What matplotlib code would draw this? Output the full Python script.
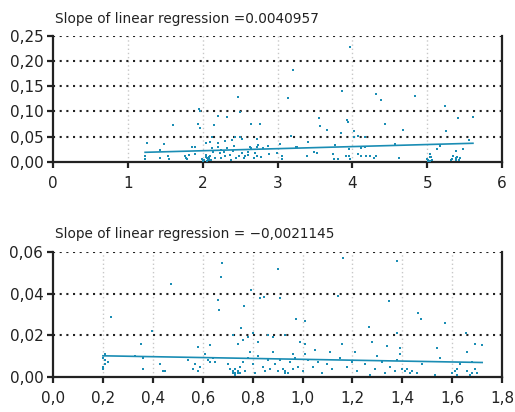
import matplotlib
matplotlib.use("Agg")
import matplotlib.pyplot as plt
from matplotlib.ticker import FuncFormatter
import numpy as np

plt.rcParams["font.family"] = ["Liberation Sans Narrow", "DejaVu Sans"]

# top panel: scatter points
top_x = [1.60, 1.95, 1.97, 1.94, 1.96, 2.15, 2.21, 2.33, 2.47, 2.50, 2.64, 2.76, 2.72, 3.03,
         3.14, 3.18, 3.21, 3.26, 3.41, 3.55, 3.57, 3.66, 3.77, 3.85, 3.86, 3.93, 3.94, 3.97,
         4.02, 4.02, 4.08, 4.17, 4.31, 4.38, 4.43, 4.57, 4.67, 4.83, 5.13, 5.17, 5.24, 5.25,
         5.39, 5.41, 5.48, 5.56, 5.61, 2.12, 2.43, 2.52, 2.30, 2.39,
         1.23, 1.23, 1.26, 1.43, 1.43, 1.48, 1.54, 1.55, 1.76, 1.78, 1.79, 1.82, 1.85, 1.89,
         1.90, 2.04, 2.05, 2.05, 2.06, 2.07, 2.08, 2.08, 2.09, 2.10, 2.10, 2.13, 2.14, 2.17,
         2.20, 2.20, 2.23, 2.25, 2.25, 2.28, 2.30, 2.33, 2.36, 2.38, 2.40, 2.42, 2.45, 2.48,
         2.50, 2.52, 2.55, 2.57, 2.60, 2.61, 2.63, 2.65, 2.68, 2.70, 2.72, 2.74,
         2.78, 2.88, 2.99, 3.06, 3.06, 3.39, 3.49, 3.53, 3.74, 3.76, 3.81, 3.92, 3.96, 3.97,
         4.07, 4.11, 4.18, 4.23, 4.29, 4.31, 2.73, 2.80, 2.87, 3.25, 3.96, 4.12, 4.17,
         4.62, 5.00, 5.01, 5.03, 5.04, 5.06, 5.05, 5.01, 5.03, 5.33, 5.35, 5.38, 5.40, 5.42,
         5.39, 5.32, 5.44, 2.06, 2.07, 2.09, 2.11, 2.04, 2.02, 1.99, 2.01]
top_y = [0.073, 0.105, 0.100, 0.075, 0.067, 0.074, 0.092, 0.090, 0.128, 0.098, 0.075, 0.076,
         0.045, 0.036, 0.126, 0.052, 0.183, 0.030, 0.040, 0.087, 0.071, 0.063, 0.034, 0.058,
         0.140, 0.083, 0.080, 0.227, 0.062, 0.050, 0.051, 0.050, 0.134, 0.123, 0.075, 0.036,
         0.063, 0.130, 0.026, 0.032, 0.111, 0.062, 0.022, 0.087, 0.026, 0.044, 0.089, 0.050,
         0.050, 0.045, 0.042, 0.044,
         0.011, 0.006, 0.038, 0.024, 0.007, 0.035, 0.011, 0.006, 0.011, 0.007, 0.006, 0.014,
         0.029, 0.030, 0.016, 0.037, 0.014, 0.011, 0.007, 0.004, 0.009, 0.003, 0.006, 0.039,
         0.012, 0.027, 0.020, 0.007, 0.037, 0.030, 0.017, 0.024, 0.007, 0.020, 0.011, 0.027,
         0.014, 0.004, 0.021, 0.031, 0.007, 0.011, 0.050, 0.017, 0.007, 0.011, 0.014, 0.020,
         0.029, 0.027, 0.007, 0.017, 0.011, 0.034,
         0.010, 0.016, 0.017, 0.012, 0.006, 0.012, 0.020, 0.017, 0.016, 0.006, 0.006, 0.012,
         0.012, 0.006, 0.016, 0.012, 0.011, 0.011, 0.008, 0.012, 0.030, 0.028, 0.031, 0.030,
         0.025, 0.028, 0.030,
         0.007, 0.006, 0.004, 0.010, 0.016, 0.004, 0.009, 0.002, 0.002, 0.005, 0.011, 0.008,
         0.009, 0.003, 0.003, 0.004, 0.007, 0.002, 0.005, 0.008, 0.003, 0.010, 0.004, 0.006,
         0.002]
top_slope = 0.0040957
top_intercept = 0.0140

# bottom panel
bot_x = [0.232, 0.473, 0.678, 0.672, 0.662, 0.667, 0.794, 0.765, 0.755, 0.397, 0.353, 0.581,
         0.630, 0.901, 1.164, 1.377, 0.846, 0.910, 1.142, 1.348, 1.461, 1.475, 1.573, 0.973,
         1.010, 1.267, 1.380, 1.655, 1.690, 1.720, 1.160, 1.540, 1.660, 1.390, 1.390, 1.280,
         1.340, 0.990, 1.010, 0.830, 0.760, 0.780, 0.800, 0.860, 0.880, 0.930, 0.820, 0.740,
         0.720, 1.050, 1.110, 1.210, 1.300,
         0.20, 0.20, 0.21, 0.21, 0.22, 0.20, 0.21, 0.33, 0.36, 0.36, 0.43, 0.44, 0.45, 0.54,
         0.56, 0.57, 0.58, 0.59, 0.61, 0.62, 0.63, 0.64, 0.65, 0.70, 0.71, 0.72, 0.72, 0.73,
         0.73, 0.73, 0.74, 0.74, 0.75, 0.75, 0.76, 0.77, 0.78, 0.79, 0.80, 0.81, 0.82, 0.84,
         0.85, 0.86, 0.87, 0.88, 0.89, 0.90, 0.91, 0.92, 0.93, 0.93, 0.94, 0.95, 0.96, 0.96,
         0.97, 0.98, 1.00, 1.01, 1.02, 1.04, 1.06, 1.08, 1.10, 1.12, 1.15, 1.18, 1.20, 1.22,
         1.25, 1.27, 1.29, 1.32, 1.33, 1.35, 1.37, 1.38, 1.40, 1.41, 1.42, 1.43, 1.44, 1.46,
         1.48, 1.53, 1.55, 1.60, 1.61, 1.62, 1.62, 1.63, 1.66, 1.67, 1.68, 1.69, 1.70, 1.68]
bot_y = [0.0287, 0.0447, 0.0549, 0.0482, 0.0370, 0.0320, 0.0418, 0.0340, 0.0237, 0.0220,
         0.0157, 0.0146, 0.0153, 0.0518, 0.0573, 0.0558, 0.0386, 0.0380, 0.0390, 0.0365,
         0.0306, 0.0280, 0.0260, 0.0277, 0.0270, 0.0241, 0.0210, 0.0210, 0.0160, 0.0155,
         0.0160, 0.0140, 0.0120, 0.0140, 0.0110, 0.0170, 0.0150, 0.0170, 0.0160, 0.0380,
         0.0180, 0.0190, 0.0210, 0.0200, 0.0190, 0.0200, 0.0170, 0.0160, 0.0200, 0.0130,
         0.0120, 0.0120, 0.0100,
         0.004, 0.005, 0.006, 0.008, 0.007, 0.009, 0.011, 0.010, 0.004, 0.009, 0.006, 0.003,
         0.003, 0.008, 0.004, 0.006, 0.003, 0.005, 0.011, 0.008, 0.007, 0.009, 0.007, 0.006,
         0.004, 0.002, 0.003, 0.002, 0.004, 0.001, 0.002, 0.003, 0.002, 0.005, 0.007, 0.003,
         0.009, 0.012, 0.006, 0.002, 0.010, 0.005, 0.003, 0.008, 0.004, 0.012, 0.006, 0.003,
         0.008, 0.004, 0.002, 0.003, 0.002, 0.007, 0.011, 0.004, 0.009, 0.005, 0.003, 0.011,
         0.008, 0.005, 0.007, 0.002, 0.006, 0.004, 0.009, 0.005, 0.007, 0.003, 0.006, 0.001,
         0.004, 0.007, 0.002, 0.005, 0.003, 0.008, 0.004, 0.003, 0.004, 0.002, 0.003, 0.002,
         0.006, 0.001, 0.009, 0.002, 0.003, 0.001, 0.004, 0.006, 0.003, 0.001, 0.002, 0.004,
         0.002, 0.007]
bot_slope = -0.0021145
bot_intercept = 0.0106

COLOR = "#1a8db4"


def comma(fmt):
    return FuncFormatter(lambda v, p: fmt.format(v).replace(".", ","))


def style(ax, xticks, yticks, xfmt, yfmt):
    ax.set_xlim(xticks[0], xticks[-1])
    ax.set_ylim(yticks[0], yticks[-1])
    ax.set_xticks(xticks)
    ax.set_yticks(yticks)
    ax.xaxis.set_major_formatter(comma(xfmt))
    ax.yaxis.set_major_formatter(comma(yfmt))
    for x in xticks[1:-1]:
        ax.axvline(x, color="#c8c8c8", lw=1.0, ls=(0, (1, 2)), zorder=0)
    for y in yticks[1:]:
        ax.axhline(y, color="#222222", lw=1.5, ls=(0, (1, 2.2)), zorder=0)
    ax.spines["top"].set_visible(False)
    for s in ["left", "bottom", "right"]:
        ax.spines[s].set_linewidth(1.6)
        ax.spines[s].set_color("#222222")
    ax.tick_params(axis="both", length=4, width=1.6, color="#222222",
                   labelsize=11, labelcolor="#222222")
    ax.tick_params(axis="y", pad=3)
    ax.tick_params(axis="x", pad=6)


fig = plt.figure(figsize=(5.15, 4.12), dpi=100)
ax1 = fig.add_axes([0.103, 0.607, 0.872, 0.306])
ax2 = fig.add_axes([0.103, 0.085, 0.872, 0.303])

style(ax1, [0, 1, 2, 3, 4, 5, 6], [0, 0.05, 0.10, 0.15, 0.20, 0.25], "{:.0f}", "{:.2f}")
style(ax2, [0, 0.2, 0.4, 0.6, 0.8, 1.0, 1.2, 1.4, 1.6, 1.8], [0, 0.02, 0.04, 0.06],
      "{:.1f}", "{:.2f}")

ax1.scatter(top_x, top_y, s=3, marker="s", color=COLOR, linewidths=0, zorder=3)
lx = np.array([min(top_x), max(top_x)])
ax1.plot(lx, top_intercept + top_slope * lx, color=COLOR, lw=1.2, zorder=4)

ax2.scatter(bot_x, bot_y, s=3, marker="s", color=COLOR, linewidths=0, zorder=3)
lx = np.array([min(bot_x), max(bot_x)])
ax2.plot(lx, bot_intercept + bot_slope * lx, color=COLOR, lw=1.2, zorder=4)

fig.text(0.107, 0.955, "Slope of linear regression =0.0040957", fontsize=9.8,
         color="#222222", va="center")
fig.text(0.107, 0.432, "Slope of linear regression = \u22120,0021145", fontsize=9.8,
         color="#222222", va="center")

fig.savefig("out.png", dpi=100)
